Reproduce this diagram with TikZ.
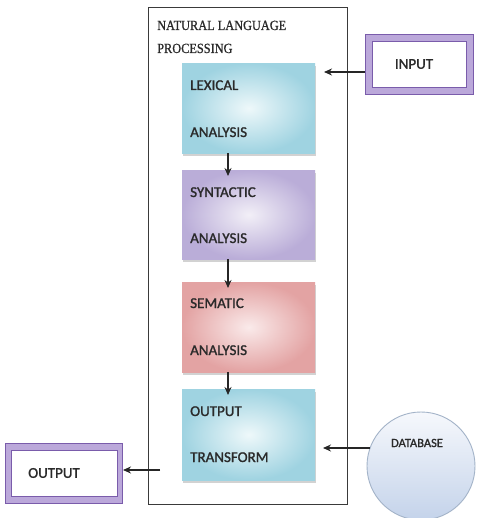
\documentclass[tikz,border=0pt]{standalone}
\usepackage{fontspec}
\setmainfont{Carlito}
\newfontfamily\lblfont[FakeBold=1.3]{Carlito}
\newfontfamily\titlefont[FakeStretch=0.88,FakeBold=0.8]{Liberation Serif}
\usetikzlibrary{arrows.meta,shadows}
\definecolor{framegray}{HTML}{3A3A3A}
\definecolor{txt}{HTML}{2A2A2A}
\definecolor{cyanin}{HTML}{EEF8FA}
\definecolor{cyanout}{HTML}{9FD3E1}
\definecolor{lavin}{HTML}{F2EFF7}
\definecolor{lavout}{HTML}{BAADD8}
\definecolor{pinkin}{HTML}{FAEAEA}
\definecolor{pinkout}{HTML}{E3A3A3}
\definecolor{purpband}{HTML}{BBA8DA}
\definecolor{purpline}{HTML}{7A5CAB}
\definecolor{dbtop}{HTML}{F6F8FC}
\definecolor{dbbot}{HTML}{C4D3EA}
\definecolor{dbline}{HTML}{A3B3C8}
\begin{document}
\begin{tikzpicture}[x=1pt,y=-1pt,
  stagebox/.style={rectangle, draw=none, inner sep=0pt, anchor=north west,
    minimum width=133pt, drop shadow={opacity=0.35, shadow xshift=0.5pt, shadow yshift=-2.5pt}},
  lbl/.style={anchor=base west, inner sep=0pt, font=\lblfont\fontsize{15}{18}\selectfont, text=txt},
  ttl/.style={anchor=base west, inner sep=0pt, font=\titlefont\fontsize{14}{16}\selectfont, text=txt},
  outerband/.style={rectangle, anchor=north west, inner sep=0pt, fill=purpband, draw=purpline, line width=1.3pt},
  innerband/.style={rectangle, anchor=north west, inner sep=0pt, fill=white, draw=purpline, line width=0.8pt},
  arr/.style={-{Stealth[length=8pt,width=7pt]}, line width=1.2pt, draw=black!85}
]
\useasboundingbox (0,0) rectangle (480,518);
\fill[white] (0,0) rectangle (480,518);

% outer NLP frame
\node[rectangle, draw=framegray, line width=1pt, inner sep=0pt, anchor=north west,
  minimum width=199pt, minimum height=497pt] (nlp) at (148,7) {};
\node[ttl] (t1) at (157,30) {NATURAL LANGUAGE};
\node[ttl] (t2) at (157,53) {PROCESSING};

% stage boxes
\node[stagebox, minimum height=90pt, inner color=cyanin, outer color=cyanout] (lex) at (182,63) {};
\node[stagebox, minimum height=89pt, inner color=lavin, outer color=lavout] (syn) at (182,170) {};
\node[stagebox, minimum height=90pt, inner color=pinkin, outer color=pinkout] (sem) at (182,282) {};
\node[stagebox, minimum height=91pt, inner color=cyanin, outer color=cyanout] (otr) at (182,389) {};

\node[lbl] (lex1) at (190,90) {LEXICAL};
\node[lbl] (lex2) at (190,137) {ANALYSIS};
\node[lbl] (syn1) at (190,197) {SYNTACTIC};
\node[lbl] (syn2) at (190,243) {ANALYSIS};
\node[lbl] (sem1) at (190,308) {SEMATIC};
\node[lbl] (sem2) at (190,355) {ANALYSIS};
\node[lbl] (otr1) at (190,416) {OUTPUT};
\node[lbl] (otr2) at (190,462) {TRANSFORM};

% arrows between stages
\coordinate (ax) at (228,0);
\draw[arr, shorten >=-6pt] (lex.south -| ax) -- (syn.north -| ax);
\draw[arr, shorten >=-6pt] (syn.south -| ax) -- (sem.north -| ax);
\draw[arr, shorten >=-6pt] (sem.south -| ax) -- (otr.north -| ax);

% INPUT box
\node[outerband, minimum width=108pt, minimum height=60pt] (inbox) at (365,34) {};
\node[innerband, minimum width=94pt, minimum height=46pt] (inboxin) at (372,41) {};
\node[inner sep=0pt, font=\lblfont\fontsize{15}{18}\selectfont, text=txt] (intext) at (414,64) {INPUT};
\coordinate (inS) at (365,72);
\coordinate (inE) at (324,72);
\draw[arr] (inS) -- (inE);

% OUTPUT box
\node[outerband, minimum width=117pt, minimum height=60pt] (outbox) at (5,443) {};
\node[innerband, minimum width=106pt, minimum height=46pt] (outboxin) at (10.5,450) {};
\node[inner sep=0pt, font=\lblfont\fontsize{15}{18}\selectfont, text=txt] (outtext) at (54,473) {OUTPUT};
\coordinate (outS) at (160,470);
\coordinate (outE) at (123,470);
\draw[arr] (outS) -- (outE);

% DATABASE
\node[circle, minimum size=108pt, inner sep=0pt, draw=dbline, line width=0.9pt,
  top color=dbtop, bottom color=dbbot] (db) at (421,466) {};
\node[inner sep=0pt, font=\lblfont\fontsize{12.5}{15}\selectfont, text=txt] (dbtext) at (417,443) {DATABASE};
\coordinate (dbS) at (370,448);
\coordinate (dbE) at (323,448);
\draw[arr] (dbS) -- (dbE);
\end{tikzpicture}
\end{document}
